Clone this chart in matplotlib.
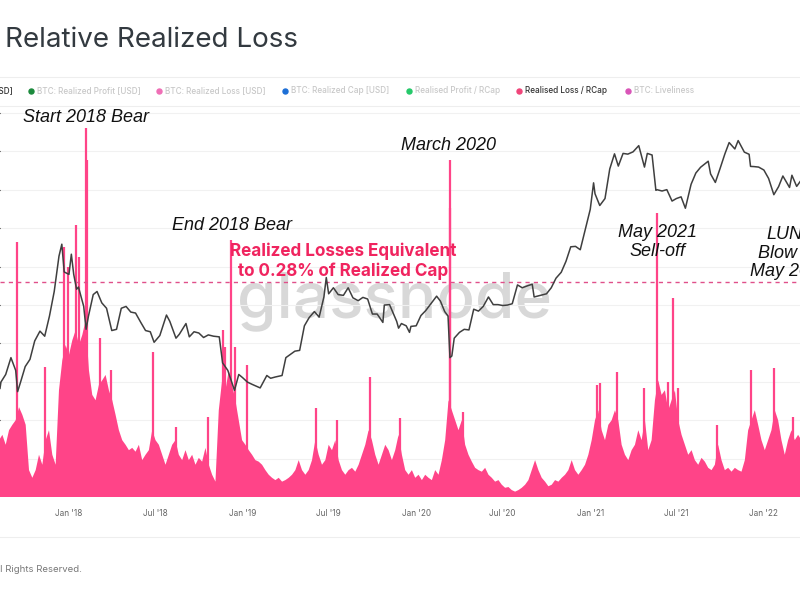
import numpy as np
import pandas as pd
import matplotlib
matplotlib.use('Agg')
import matplotlib.pyplot as plt
import matplotlib.dates as mdates
from matplotlib.lines import Line2D

plt.rcParams['font.family'] = ['Inter', 'DejaVu Sans']

# BTC price (USD)
price_dates = [
    '2017-08-09', '2017-08-11', '2017-08-21', '2017-09-01', '2017-09-11', '2017-09-15', '2017-09-21',
    '2017-10-01', '2017-10-11', '2017-10-21', '2017-11-01', '2017-11-11', '2017-11-21', '2017-12-01',
    '2017-12-11', '2017-12-17', '2017-12-22', '2018-01-01', '2018-01-06', '2018-01-11', '2018-01-17',
    '2018-01-21', '2018-02-01', '2018-02-06', '2018-02-11', '2018-02-21', '2018-03-01', '2018-03-11',
    '2018-03-21', '2018-04-01', '2018-04-11', '2018-04-21', '2018-05-01', '2018-05-11', '2018-05-21',
    '2018-06-01', '2018-06-11', '2018-06-21', '2018-06-29', '2018-07-11', '2018-07-25', '2018-08-01',
    '2018-08-14', '2018-08-21', '2018-09-04', '2018-09-11', '2018-09-21', '2018-10-01', '2018-10-11',
    '2018-10-21', '2018-11-01', '2018-11-13', '2018-11-20', '2018-12-01', '2018-12-15', '2018-12-24',
    '2019-01-01', '2019-01-11', '2019-01-21', '2019-02-07', '2019-02-21', '2019-03-01', '2019-03-11',
    '2019-03-25', '2019-04-02', '2019-04-21', '2019-05-01', '2019-05-11', '2019-05-21', '2019-06-01',
    '2019-06-11', '2019-06-21', '2019-06-26', '2019-07-01', '2019-07-11', '2019-07-21', '2019-08-01',
    '2019-08-11', '2019-08-21', '2019-09-01', '2019-09-11', '2019-09-21', '2019-10-01', '2019-10-11',
    '2019-10-23', '2019-10-26', '2019-11-06', '2019-11-21', '2019-11-25', '2019-12-01', '2019-12-11',
    '2019-12-18', '2019-12-21', '2020-01-01', '2020-01-11', '2020-01-21', '2020-02-01', '2020-02-13',
    '2020-02-21', '2020-03-01', '2020-03-08', '2020-03-12', '2020-03-16', '2020-03-21', '2020-04-01',
    '2020-04-11', '2020-04-21', '2020-05-01', '2020-05-11', '2020-05-21', '2020-06-01', '2020-06-11',
    '2020-06-21', '2020-07-01', '2020-07-11', '2020-07-21', '2020-08-01', '2020-08-11', '2020-08-21',
    '2020-09-01', '2020-09-05', '2020-09-21', '2020-10-01', '2020-10-11', '2020-10-21', '2020-11-01',
    '2020-11-11', '2020-11-21', '2020-12-01', '2020-12-11', '2020-12-21', '2021-01-01', '2021-01-08',
    '2021-01-11', '2021-01-21', '2021-02-01', '2021-02-11', '2021-02-21', '2021-03-01', '2021-03-11',
    '2021-03-21', '2021-04-01', '2021-04-13', '2021-04-25', '2021-05-01', '2021-05-11', '2021-05-19',
    '2021-05-21', '2021-06-01', '2021-06-11', '2021-06-22', '2021-07-01', '2021-07-11', '2021-07-20',
    '2021-08-01', '2021-08-11', '2021-08-21', '2021-09-06', '2021-09-11', '2021-09-21', '2021-10-01',
    '2021-10-11', '2021-10-20', '2021-11-01', '2021-11-08', '2021-11-21', '2021-12-01', '2021-12-04',
    '2021-12-11', '2021-12-21', '2022-01-01', '2022-01-11', '2022-01-22', '2022-02-01', '2022-02-10',
    '2022-02-24', '2022-03-01', '2022-03-11', '2022-03-20',
]
price_usd = [
    3380, 3650, 4000, 4900, 4200, 3250, 3630,
    4400, 4800, 6000, 6750, 6350, 8100, 10900,
    16700, 19300, 13800, 13400, 17100, 13400, 11200,
    11500, 9100, 6900, 8100, 10500, 10900, 9500,
    8900, 6800, 6900, 8900, 9100, 8500, 8400,
    7500, 6800, 6700, 5900, 6400, 8200, 7600,
    6200, 6500, 7400, 6300, 6700, 6600, 6250,
    6450, 6350, 6300, 4600, 4200, 3300, 4000,
    3850, 3650, 3550, 3400, 3950, 3820, 3880,
    3950, 4900, 5300, 5350, 7200, 7950, 8550,
    8000, 10200, 12900, 10600, 11400, 10500, 10400,
    11400, 10100, 9750, 10150, 9950, 8300, 8300,
    7500, 9250, 9300, 7600, 7000, 7400, 7200,
    6650, 7150, 7200, 8150, 8650, 9400, 10300,
    9700, 8550, 8100, 4900, 5000, 6200, 6650,
    6900, 6850, 8800, 8600, 9100, 10200, 9300,
    9300, 9200, 9250, 9400, 11800, 11400, 11650,
    11900, 10200, 10450, 10600, 11400, 12800, 13750,
    15700, 18700, 18800, 18050, 22800, 29400, 40500,
    35500, 30800, 33500, 47900, 57500, 49600, 57800,
    57300, 58900, 63500, 49000, 57800, 56700, 37000,
    37300, 36700, 37300, 32500, 33500, 34200, 29800,
    39800, 45600, 48900, 52600, 45100, 40700, 48200,
    57400, 65900, 61000, 67500, 58700, 57200, 49400,
    49300, 49000, 47300, 42700, 35100, 38700, 44000,
    38300, 44400, 38800, 41700,
]

# Realised Loss / RCap (%), weekly body of the pink area
loss_week_start = '2017-08-07'
loss_weekly = [
    0.074, 0.081, 0.068, 0.087, 0.094, 0.100, 0.117, 0.107, 0.094, 0.035,
    0.025, 0.035, 0.055, 0.042, 0.074, 0.087, 0.055, 0.042, 0.139, 0.178,
    0.198, 0.185, 0.204, 0.217, 0.198, 0.211, 0.230, 0.165, 0.133, 0.126,
    0.146, 0.152, 0.159, 0.139, 0.126, 0.107, 0.087, 0.074, 0.068, 0.061,
    0.064, 0.059, 0.068, 0.048, 0.055, 0.061, 0.087, 0.074, 0.068, 0.055,
    0.042, 0.055, 0.068, 0.074, 0.055, 0.048, 0.061, 0.048, 0.055, 0.042,
    0.051, 0.046, 0.064, 0.042, 0.029, 0.020, 0.113, 0.152, 0.139, 0.165,
    0.146, 0.126, 0.100, 0.074, 0.068, 0.061, 0.055, 0.048, 0.046, 0.042,
    0.035, 0.029, 0.025, 0.022, 0.025, 0.020, 0.022, 0.025, 0.029, 0.035,
    0.048, 0.035, 0.029, 0.035, 0.048, 0.074, 0.055, 0.042, 0.048, 0.068,
    0.061, 0.074, 0.048, 0.035, 0.029, 0.035, 0.038, 0.033, 0.042, 0.055,
    0.068, 0.087, 0.074, 0.055, 0.042, 0.055, 0.068, 0.061, 0.048, 0.061,
    0.081, 0.055, 0.035, 0.029, 0.035, 0.025, 0.029, 0.022, 0.029, 0.025,
    0.022, 0.035, 0.029, 0.048, 0.074, 0.126, 0.113, 0.100, 0.087, 0.100,
    0.068, 0.055, 0.046, 0.038, 0.035, 0.033, 0.038, 0.029, 0.025, 0.020,
    0.022, 0.016, 0.012, 0.013, 0.009, 0.007, 0.009, 0.012, 0.016, 0.022,
    0.035, 0.048, 0.035, 0.025, 0.020, 0.014, 0.016, 0.022, 0.020, 0.025,
    0.029, 0.035, 0.048, 0.035, 0.029, 0.035, 0.042, 0.055, 0.074, 0.100,
    0.113, 0.087, 0.074, 0.094, 0.100, 0.113, 0.100, 0.068, 0.055, 0.048,
    0.061, 0.068, 0.087, 0.074, 0.100, 0.061, 0.074, 0.126, 0.152, 0.133,
    0.139, 0.113, 0.126, 0.139, 0.100, 0.081, 0.068, 0.055, 0.061, 0.048,
    0.042, 0.051, 0.046, 0.038, 0.035, 0.042, 0.068, 0.048, 0.035, 0.038,
    0.033, 0.038, 0.035, 0.033, 0.048, 0.087, 0.100, 0.113, 0.094, 0.074,
    0.061, 0.074, 0.087, 0.113, 0.100, 0.074, 0.055, 0.074, 0.087, 0.074,
    0.081, 0.074,
]

# single-day capitulation spikes (%)
spike_dates = [
    '2017-09-14', '2017-11-12', '2017-12-22', '2017-12-29', '2018-01-16', '2018-01-23',
    '2018-02-05', '2018-02-07', '2018-03-08', '2018-03-30', '2018-06-26', '2018-08-14',
    '2018-10-20', '2018-11-21', '2018-11-26', '2018-12-07', '2018-12-16', '2019-01-11',
    '2019-06-05', '2019-07-19', '2019-09-26', '2019-11-27', '2020-03-12', '2020-03-13',
    '2020-04-08', '2021-01-16', '2021-01-21', '2021-02-26', '2021-04-23', '2021-05-22',
    '2021-06-13', '2021-06-25', '2021-07-04', '2021-09-25', '2021-12-05', '2022-01-23',
    '2022-03-04',
]
spike_values = [
    0.332, 0.169, 0.325, 0.300, 0.354, 0.312,
    0.480, 0.439, 0.207, 0.165, 0.189, 0.091,
    0.104, 0.217, 0.195, 0.335, 0.195, 0.172,
    0.116, 0.100, 0.156, 0.103, 0.439, 0.376,
    0.111, 0.146, 0.148, 0.163, 0.142, 0.370,
    0.150, 0.259, 0.142, 0.094, 0.165, 0.168,
    0.104,
]

loss_level = 0.28

pink = '#ff4488'
W, H = 800, 600


def fx(px):
    return px / W


def fy(py):
    return 1 - py / H


fig = plt.figure(figsize=(8, 6), dpi=100)

ax = fig.add_axes([0, fy(497), 1, (497 - 100) / H])
ax.set_facecolor('none')
weekly_dates = pd.date_range(loss_week_start, periods=len(loss_weekly), freq='7D')
ax.fill_between(weekly_dates, 0, loss_weekly, color=pink, lw=0)
ax.vlines(pd.to_datetime(spike_dates), 0, spike_values, color=pink, lw=1.6)
ax.axhline(loss_level, color='#e0508a', lw=1.0, ls=(0, (3, 3)))

ax.set_xlim(pd.Timestamp('2017-08-09'), pd.Timestamp('2022-03-18'))
ax.set_ylim(0, 0.517)
ax.set_yticks(np.arange(0.05, 0.51, 0.05))
ax.grid(axis='y', color='#f1f1f1', lw=0.8)
ax.set_axisbelow(True)
ax.tick_params(axis='y', left=False, labelleft=False)
ax.xaxis.set_major_locator(mdates.MonthLocator(bymonth=[1, 7]))
ax.xaxis.set_major_formatter(mdates.DateFormatter("%b '%y"))
ax.tick_params(axis='x', length=0, pad=9, labelsize=5.9, labelcolor='#666666')
for s in ax.spines.values():
    s.set_visible(False)

ax2 = ax.twinx()
ax2.set_facecolor('none')
ax2.plot(pd.to_datetime(price_dates), price_usd, color='#3f3f3f', lw=1.1)
ax2.set_yscale('log')
ax2.set_ylim(910, 110200)
ax2.yaxis.set_visible(False)
for s in ax2.spines.values():
    s.set_visible(False)

# watermark behind everything
fig.text(fx(395), fy(301), 'glassnode', fontsize=46, color='#d8d8d8', fontweight='medium',
         ha='center', va='center', zorder=-1)

# title and legend strip
fig.text(fx(5), fy(40), 'Relative Realized Loss', fontsize=20, color='#333a40',
         ha='left', va='center')
for yy in (77, 106, 537):
    fig.add_artist(Line2D([0, 1], [fy(yy), fy(yy)], color='#eeeeee', lw=0.8))

legend_items = [
    (None, 'BTC: Price [USD]', '#333333', 13),
    ('#1b8a3c', 'BTC: Realized Profit [USD]', '#c8c8c8', 31),
    ('#ef6fb6', 'BTC: Realized Loss [USD]', '#c8c8c8', 159),
    ('#1d6fd6', 'BTC: Realized Cap [USD]', '#c8c8c8', 285),
    ('#25c96a', 'Realised Profit / RCap', '#c8c8c8', 409),
    ('#f0457a', 'Realised Loss / RCap', '#333333', 519),
    ('#d955b8', 'BTC: Liveliness', '#c8c8c8', 628),
]
for dot, label, tcol, xpx in legend_items:
    if dot is None:
        fig.text(fx(xpx), fy(91), label, fontsize=5.9, color=tcol, fontweight='medium',
                 ha='right', va='center')
        continue
    fig.add_artist(Line2D([fx(xpx)], [fy(91)], marker='o', ms=3.6, color=dot, lw=0))
    fig.text(fx(xpx + 6), fy(91), label, fontsize=5.9, color=tcol, fontweight='medium',
             ha='left', va='center')

# annotations
note = dict(fontsize=13, style='italic', family=['Liberation Sans', 'DejaVu Sans'], color='#111111')
fig.text(fx(23), fy(118), 'Start 2018 Bear', ha='left', va='center', **note)
fig.text(fx(172), fy(225), 'End 2018 Bear', ha='left', va='center', **note)
fig.text(fx(401), fy(145), 'March 2020', ha='left', va='center', **note)
fig.text(fx(657), fy(242), 'May 2021\nSell-off', ha='center', va='center', linespacing=1.15, **note)
fig.text(fx(790), fy(253), 'LUNA\nBlow up\nMay 2022', ha='center', va='center', linespacing=1.15, **note)

fig.text(fx(343), fy(261), 'Realized Losses Equivalent\nto 0.28% of Realized Cap', fontsize=12.3,
         fontweight='bold', color='#f0245f', ha='center', va='center', linespacing=1.2)

fig.text(fx(82), fy(569), '\u00a9 2022 Glassnode. All Rights Reserved.', fontsize=6.9,
         color='#777777', ha='right', va='center')

fig.savefig('out.png', dpi=100)
